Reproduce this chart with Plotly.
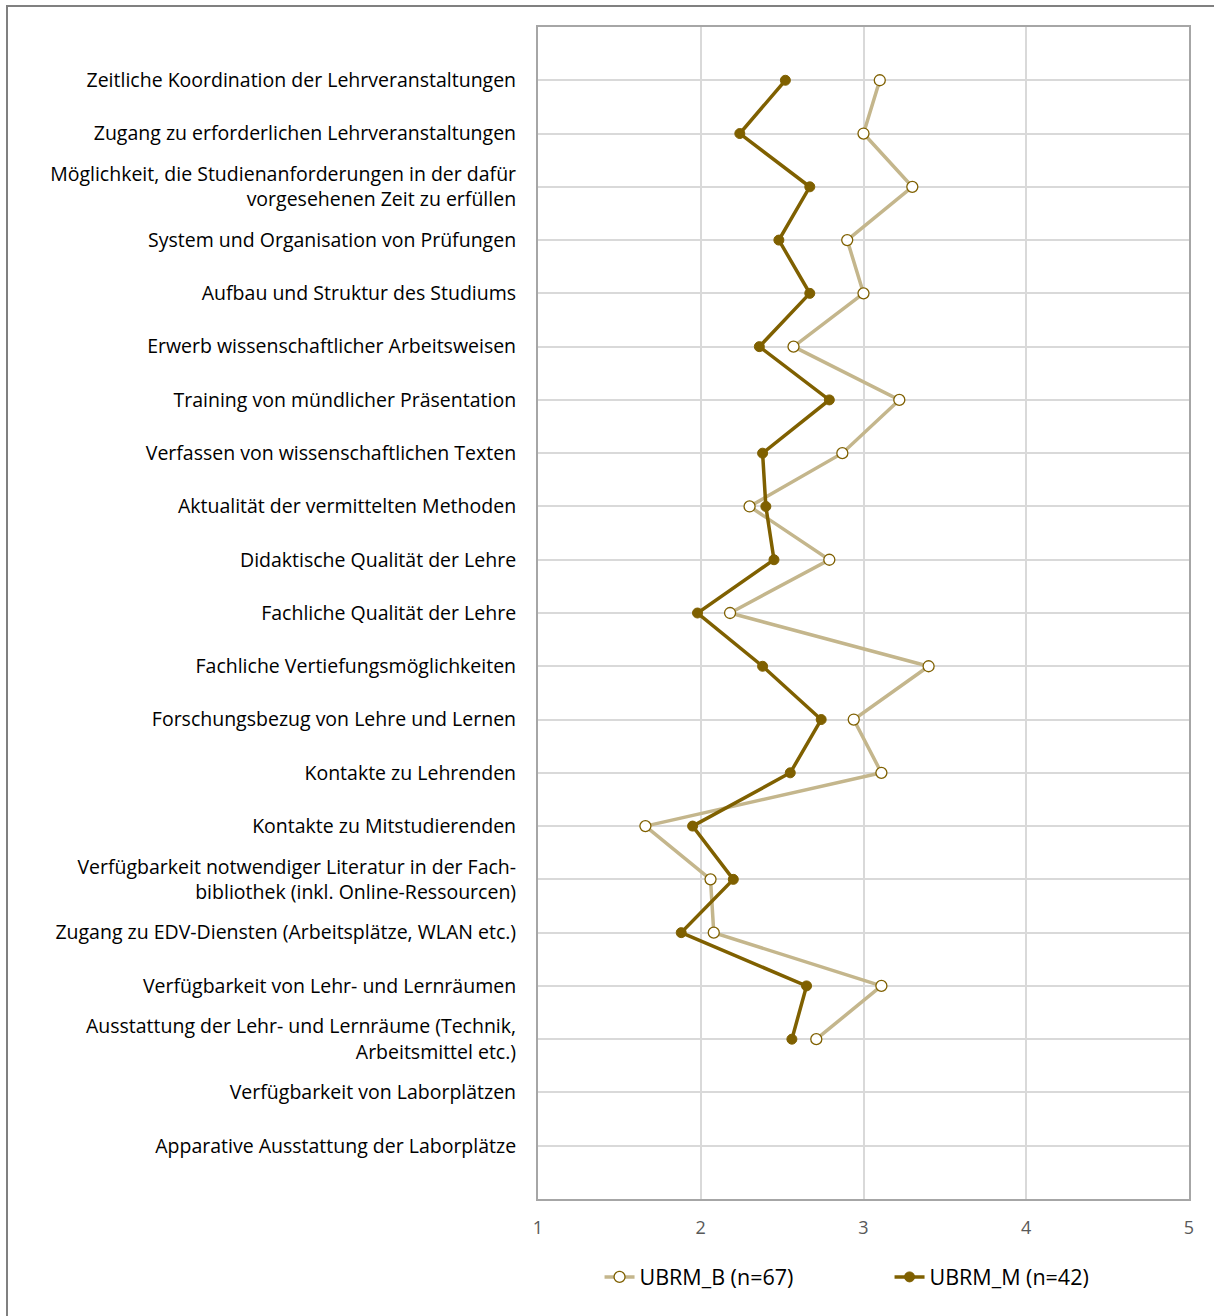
import plotly.graph_objects as go

categories = [
    "Zeitliche Koordination der Lehrveranstaltungen",
    "Zugang zu erforderlichen Lehrveranstaltungen",
    "Möglichkeit, die Studienanforderungen in der dafür<br>vorgesehenen Zeit zu erfüllen",
    "System und Organisation von Prüfungen",
    "Aufbau und Struktur des Studiums",
    "Erwerb wissenschaftlicher Arbeitsweisen",
    "Training von mündlicher Präsentation",
    "Verfassen von wissenschaftlichen Texten",
    "Aktualität der vermittelten Methoden",
    "Didaktische Qualität der Lehre",
    "Fachliche Qualität der Lehre",
    "Fachliche Vertiefungsmöglichkeiten",
    "Forschungsbezug von Lehre und Lernen",
    "Kontakte zu Lehrenden",
    "Kontakte zu Mitstudierenden",
    "Verfügbarkeit notwendiger Literatur in der Fach-<br>bibliothek (inkl. Online-Ressourcen)",
    "Zugang zu EDV-Diensten (Arbeitsplätze, WLAN etc.)",
    "Verfügbarkeit von Lehr- und Lernräumen",
    "Ausstattung der Lehr- und Lernräume (Technik,<br>Arbeitsmittel etc.)",
    "Verfügbarkeit von Laborplätzen",
    "Apparative Ausstattung der Laborplätze",
]

ubrm_b = [3.10, 3.00, 3.30, 2.90, 3.00, 2.57, 3.22, 2.87, 2.30, 2.79, 2.18,
          3.40, 2.94, 3.11, 1.66, 2.06, 2.08, 3.11, 2.71, None, None]
ubrm_m = [2.52, 2.24, 2.67, 2.48, 2.67, 2.36, 2.79, 2.38, 2.40, 2.45, 1.98,
          2.38, 2.74, 2.55, 1.95, 2.20, 1.88, 2.65, 2.56, None, None]

x_ticks = [1, 2, 3, 4, 5]
series_names = ["UBRM_B (n=67)", "UBRM_M (n=42)"]

ypos = list(range(len(categories)))

fig = go.Figure()
fig.add_trace(go.Scatter(
    x=ubrm_b, y=ypos, mode="lines+markers", name=series_names[0],
    line=dict(color="#c4b68c", width=3.5),
    marker=dict(symbol="circle", size=11, color="white",
                line=dict(color="#7f6000", width=1.3)),
    connectgaps=False,
))
fig.add_trace(go.Scatter(
    x=ubrm_m, y=ypos, mode="lines+markers", name=series_names[1],
    line=dict(color="#7f6000", width=3.5),
    marker=dict(symbol="circle", size=10, color="#7f6000",
                line=dict(color="#7f6000", width=1)),
    connectgaps=False,
))

W, H = 1214, 1316
ml, mt, mr, mb = 538, 27, 25, 117
pw = W - ml - mr
ph = H - mt - mb

fig.add_shape(type="rect", xref="paper", yref="paper",
              x0=(7 - ml) / pw, x1=(W + 20 - ml) / pw,
              y0=-(H + 20 - mt - ph) / ph, y1=1 + (mt - 6) / ph,
              line=dict(color="#808080", width=2), fillcolor="rgba(0,0,0,0)",
              layer="below")

fig.update_layout(
    width=W, height=H,
    margin=dict(l=ml, r=mr, t=mt, b=mb, autoexpand=False),
    paper_bgcolor="white", plot_bgcolor="white",
    font=dict(family="Open Sans, Noto Sans, sans-serif", color="#000000"),
    showlegend=True,
    legend=dict(orientation="h", x=0.54, xanchor="center", y=-0.049, yanchor="top",
                font=dict(size=21.5, color="#000000"),
                entrywidth=245, entrywidthmode="pixels",
                traceorder="normal"),
    xaxis=dict(range=[1, 5], tickvals=x_ticks, ticktext=[str(v) for v in x_ticks],
               showgrid=True, gridcolor="#d9d9d9", gridwidth=1.5,
               zeroline=False, showline=True, linecolor="#a6a6a6", linewidth=2,
               mirror=True, ticks="outside", ticklen=11, tickcolor="rgba(0,0,0,0)",
               tickfont=dict(size=18, color="#595959")),
    yaxis=dict(range=[len(categories), -1], tickvals=ypos, ticktext=categories,
               showgrid=True, gridcolor="#d9d9d9", gridwidth=1.5,
               zeroline=False, showline=True, linecolor="#a6a6a6", linewidth=2,
               mirror=True, ticks="outside", ticklen=16, tickcolor="rgba(0,0,0,0)",
               tickfont=dict(size=19.5, color="#000000")),
)

fig.write_html("out.html")
